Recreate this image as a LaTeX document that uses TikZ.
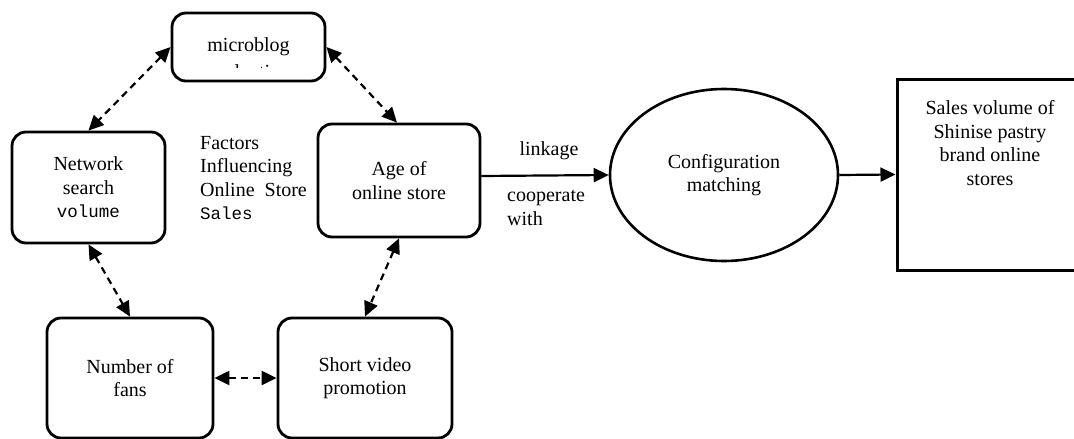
\documentclass[tikz,border=0pt]{standalone}
\usepackage{fontspec}
\setmainfont{Liberation Serif}
\newfontfamily\codefont{Liberation Mono}
\usetikzlibrary{arrows.meta,shapes.geometric}
\tikzset{
  every node/.style={font=\fontsize{20}{23.5}\selectfont},
  rbox/.style={draw, line width=2.8pt, rounded corners=14pt, align=center, inner sep=0pt},
  sqbox/.style={draw, line width=3pt, inner sep=0pt},
  oval/.style={draw, ellipse, line width=2.6pt, align=center, inner sep=0pt},
  plain/.style={align=left, inner sep=0pt},
  headtip/.tip={Triangle[length=15pt,width=14pt]},
  link/.style={line width=2.2pt, dash pattern=on 7pt off 5pt, headtip-headtip},
  flow/.style={line width=2.2pt, -headtip}
}
\newcommand{\codeword}[1]{{\codefont\fontsize{17.5}{23.5}\selectfont #1}}
\begin{document}
\begin{tikzpicture}[x=1pt,y=-1pt]
\useasboundingbox (0,0) rectangle (1074,439);
\clip (0,0) rectangle (1074,439);
\fill[white] (0,0) rectangle (1074,439);

% factor boxes
\node[rbox, minimum width=153pt, minimum height=68pt] (mb) at (248.5,47) {microblog};
\begin{scope}
  \clip (175,58) rectangle (322,67.5);
  \node[inner sep=0pt] at (248.5,71.5) {evaluation};
\end{scope}
\node[rbox, minimum width=153pt, minimum height=111pt] (nw) at (88.5,187.5)
  {Network\\search\\\codeword{volume}};
\node[rbox, minimum width=162pt, minimum height=113pt] (age) at (399,180.5)
  {Age of\\online store};
\node[rbox, minimum width=166pt, minimum height=120pt] (fans) at (130,378)
  {Number of\\fans};
\node[rbox, minimum width=174pt, minimum height=120pt] (video) at (365,378)
  {Short video\\promotion};

\node[plain, anchor=west] (factors) at (200,178)
  {Factors\\Influencing\\Online\hspace{0.5em}Store\\\codeword{Sales}};

% configuration and outcome
\node[oval, minimum width=228pt, minimum height=172pt] (cfg) at (724,175)
  {Configuration\\matching};
\node[sqbox, minimum width=186pt, minimum height=191pt] (sales) at (990,174.5) {};
\node[align=center, inner sep=0pt] (salestxt) at (990,143)
  {Sales volume of\\Shinise pastry\\brand online\\stores};

\node[inner sep=0pt] (lnk) at (549,151) {linkage};
\node[plain, anchor=west] (coop) at (507,208) {cooperate\\with};

% connectors
\draw[link] (mb.west) -- (nw.north);
\draw[link] (mb.east) -- ([xshift=-2pt]age.north);
\draw[link] (nw.south) -- (fans.north);
\draw[link] (age.south) -- (video.north);
\draw[link] (fans.east) -- (video.west);
\draw[flow] ([yshift=4.5pt]age.east) -- (cfg.west);
\draw[flow] (cfg.east) -- (sales.west);
\end{tikzpicture}
\end{document}
